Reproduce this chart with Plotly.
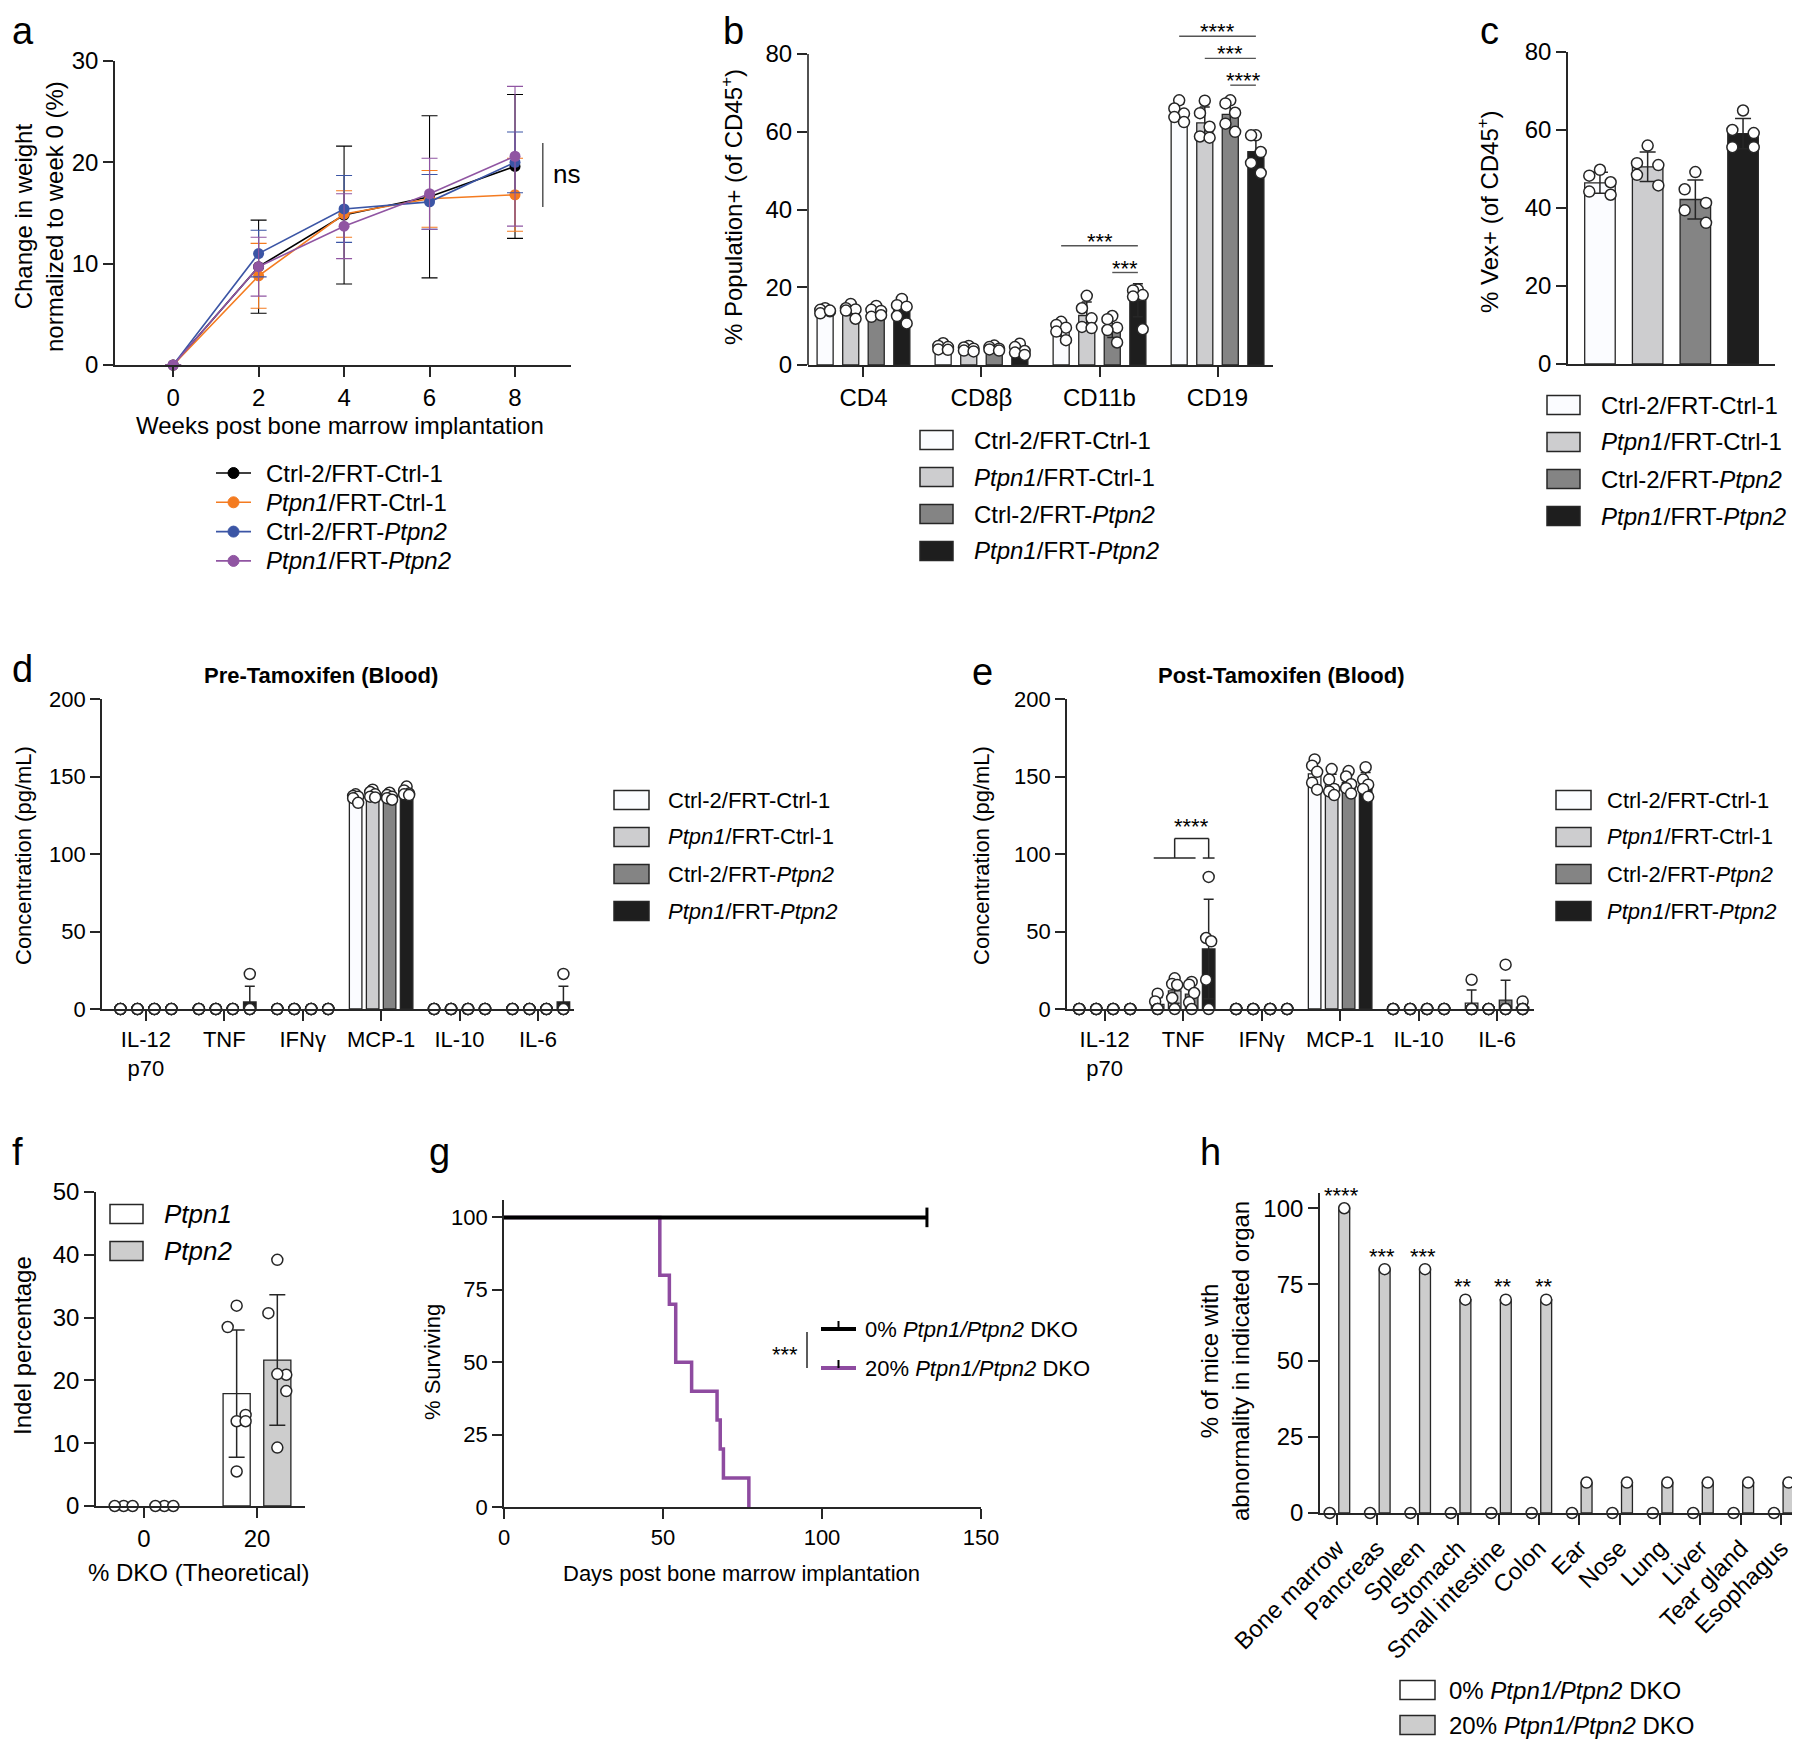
import numpy as np
import plotly.graph_objects as go

W, H = 1800, 1743
PAGE = 8  # default body margin of the html page
FW, FH = W - PAGE, H - PAGE
SANS = "Liberation Sans, Arial, Helvetica, sans-serif"
NARROW = "Liberation Sans Narrow, Arial Narrow, Liberation Sans, sans-serif"
INK = "#262626"

GROUPS = ["Ctrl-2/FRT-Ctrl-1", "<i>Ptpn1</i>/FRT-Ctrl-1",
          "Ctrl-2/FRT-<i>Ptpn2</i>", "<i>Ptpn1</i>/FRT-<i>Ptpn2</i>"]
BAR_FILLS = ["#fbfcff", "#cdcdcf", "#848484", "#1e1e1e"]
LINE_COLORS = ["#000000", "#f47b20", "#3b55a5", "#9055a2"]

# ---- a: weight change ----
weeks = [0, 2, 4, 6, 8]
a_ctrl_ctrl = [0, 9.7, 14.8, 16.6, 19.6]
a_ctrl_ctrl_sd = [0, 4.6, 6.8, 8.0, 7.1]
a_ptpn1_ctrl = [0, 8.8, 14.9, 16.4, 16.8]
a_ptpn1_ctrl_sd = [0, 3.2, 2.3, 2.8, 3.6]
a_ctrl_ptpn2 = [0, 11.0, 15.4, 16.1, 20.0]
a_ctrl_ptpn2_sd = [0, 2.3, 3.3, 2.7, 3.0]
a_ptpn1_ptpn2 = [0, 9.7, 13.7, 16.9, 20.6]
a_ptpn1_ptpn2_sd = [0, 2.9, 3.2, 3.5, 6.9]

# ---- b: populations ----
b_cells = ["CD4", "CD8β", "CD11b", "CD19"]
b_ctrl_ctrl = [[14.6, 14.2, 13.8, 13.3, 14.0], [5.6, 4.9, 4.6, 4.0, 3.9],
               [11.1, 10.3, 9.6, 8.6, 6.4], [68.1, 66.0, 64.7, 63.8, 62.5]]
b_ptpn1_ctrl = [[15.7, 14.6, 14.3, 14.0, 11.9], [4.9, 4.5, 4.2, 3.7, 3.5],
                [17.8, 14.6, 12.0, 9.8, 9.5], [68.0, 64.8, 61.3, 58.8, 58.5]]
b_ctrl_ptpn2 = [[15.2, 14.2, 13.9, 12.4, 12.8], [5.0, 4.6, 4.2, 4.0, 3.7],
                [12.6, 11.8, 9.6, 9.0, 5.8], [68.1, 67.3, 64.9, 62.1, 60.0]]
b_ptpn1_ptpn2 = [[17.0, 15.4, 15.0, 12.6, 10.7], [5.5, 4.6, 3.6, 3.2, 2.6],
                 [19.4, 19.2, 18.0, 17.6, 9.2], [59.1, 59.1, 54.8, 52.0, 49.4]]
# (category, group i, group j, stars, line height)
b_sig = [(2, 0, 3, "***", 30.7), (2, 2, 3, "***", 23.8),
         (3, 0, 3, "****", 84.6), (3, 1, 3, "***", 78.9), (3, 2, 3, "****", 72.0)]

# ---- c: Vex+ ----
c_ctrl_ctrl = [49.8, 48.3, 46.6, 44.2, 43.4]
c_ptpn1_ctrl = [56.0, 51.5, 51.0, 48.5, 45.8]
c_ctrl_ptpn2 = [49.2, 44.8, 41.3, 39.4, 36.2]
c_ptpn1_ptpn2 = [65.0, 60.0, 59.2, 55.6, 55.6]

# ---- d / e: cytokines ----
cytokines = ["IL-12<br>p70", "TNF", "IFNγ", "MCP-1", "IL-10", "IL-6"]
d_ctrl_ctrl = [[0, 0, 0, 0, 0], [0, 0, 0, 0, 0], [0, 0, 0, 0, 0],
               [138.5, 137.5, 137.0, 136.0, 133.0], [0, 0, 0, 0, 0], [0, 0, 0, 0, 0]]
d_ptpn1_ctrl = [[0, 0, 0, 0, 0], [0, 0, 0, 0, 0], [0, 0, 0, 0, 0],
                [141.5, 140.0, 138.5, 137.0, 136.5], [0, 0, 0, 0, 0], [0, 0, 0, 0, 0]]
d_ctrl_ptpn2 = [[0, 0, 0, 0, 0], [0, 0, 0, 0, 0], [0, 0, 0, 0, 0],
                [139.5, 138.0, 137.0, 136.0, 135.0], [0, 0, 0, 0, 0], [0, 0, 0, 0, 0]]
d_ptpn1_ptpn2 = [[0, 0, 0, 0, 0], [22.6, 0, 0, 0, 0], [0, 0, 0, 0, 0],
                 [143.5, 141.0, 139.0, 138.5, 138.0], [0, 0, 0, 0, 0], [22.6, 0, 0, 0, 0]]

e_ctrl_ctrl = [[0, 0, 0, 0, 0], [9.9, 4.9, 0, 0, 0], [0, 0, 0, 0, 0],
               [161.0, 157.0, 153.0, 146.0, 141.5], [0, 0, 0, 0, 0], [18.9, 0, 0, 0, 0]]
e_ptpn1_ctrl = [[0, 0, 0, 0, 0], [19.8, 16.2, 15.5, 7.1, 0], [0, 0, 0, 0, 0],
                [154.8, 148.0, 142.0, 140.4, 138.0], [0, 0, 0, 0, 0], [0, 0, 0, 0, 0]]
e_ctrl_ptpn2 = [[0, 0, 0, 0, 0], [17.5, 15.7, 10.3, 4.3, 0], [0, 0, 0, 0, 0],
                [153.5, 150.0, 145.0, 142.5, 139.0], [0, 0, 0, 0, 0], [28.6, 0, 0, 0, 0]]
e_ptpn1_ptpn2 = [[0, 0, 0, 0, 0], [85.2, 45.8, 43.7, 18.9, 0], [0, 0, 0, 0, 0],
                 [156.0, 148.0, 144.7, 142.0, 137.0], [0, 0, 0, 0, 0], [4.9, 0, 0, 0, 0]]

# ---- f: indel ----
f_doses = ["0", "20"]
f_ptpn1 = [[0, 0, 0], [31.9, 28.5, 14.5, 13.5, 13.5, 5.5]]
f_ptpn2 = [[0, 0, 0], [39.2, 30.7, 20.9, 21.0, 18.3, 9.3]]

# ---- g: survival ----
g_ctrl_days = [0, 133]
g_ctrl_surv = [100, 100]
g_dko_days = [0, 49, 52, 54, 59, 67, 68, 69, 77]
g_dko_surv = [100, 80, 70, 50, 40, 30, 20, 10, 0]

# ---- h: organs ----
h_organs = ["Bone marrow", "Pancreas", "Spleen", "Stomach", "Small intestine", "Colon",
            "Ear", "Nose", "Lung", "Liver", "Tear gland", "Esophagus"]
h_ctrl = [0, 0, 0, 0, 0, 0, 0, 0, 0, 0, 0, 0]
h_dko = [100, 80, 80, 70, 70, 70, 10, 10, 10, 10, 10, 10]
h_stars = ["****", "***", "***", "**", "**", "**", "", "", "", "", "", ""]


fig = go.Figure()
shapes, notes = [], []


def fx(p):
    return (p - PAGE) / FW


def fy(p):
    return 1 - (p - PAGE) / FH


def refs(n):
    return ("x", "y") if n == 1 else (f"x{n}", f"y{n}")


def set_axes(n, xpx, ypx, xr, yr, xt, xtt, yt, tfont, yline=True, xangle=0):
    xa, ya = refs(n)
    common = dict(showline=True, linecolor=INK, linewidth=1.6, ticks="outside", ticklen=10,
                  tickwidth=1.6, tickcolor=INK, showgrid=False, zeroline=False,
                  fixedrange=True, tickfont=tfont, tickmode="array", automargin=False)
    xk = "xaxis" if n == 1 else f"xaxis{n}"
    yk = "yaxis" if n == 1 else f"yaxis{n}"
    fig.update_layout(**{
        xk: dict(domain=[fx(xpx[0]), fx(xpx[1])], range=xr, anchor=ya,
                 tickvals=xt, ticktext=xtt, tickangle=xangle, **common),
        yk: dict(domain=[fy(ypx[1]), fy(ypx[0])], range=yr, anchor=xa,
                 tickvals=yt, ticktext=[str(v) for v in yt], **common),
    })
    if not yline:
        fig.layout[yk].showline = False


PAT = [0.0, -0.3, 0.3, -0.3, 0.3, 0.0]


def bar_panel(n, series, offsets, width, fills, cap, spread_zero=False, pat=PAT):
    xa, ya = refs(n)
    for s, vals in enumerate(series):
        xs = [c + offsets[s] for c in range(len(vals))]
        means = [float(np.mean(v)) for v in vals]
        sds = [float(np.std(v, ddof=1)) if len(v) > 1 else 0.0 for v in vals]
        fig.add_trace(go.Bar(x=xs, y=means, width=width, xaxis=xa, yaxis=ya,
                             marker=dict(color=fills[s], line=dict(color=INK, width=1.3)),
                             error_y=dict(type="data", array=sds, color=INK,
                                          thickness=1.5, width=cap),
                             showlegend=False))
    for s, vals in enumerate(series):
        dx, dy = [], []
        for c, v in enumerate(vals):
            for k, val in enumerate(v):
                j = pat[k % len(pat)] * width
                if val == 0 and not spread_zero:
                    j = 0
                dx.append(c + offsets[s] + j)
                dy.append(val)
        fig.add_trace(go.Scatter(x=dx, y=dy, mode="markers", xaxis=xa, yaxis=ya,
                                 cliponaxis=False, showlegend=False,
                                 marker=dict(size=11, color="white",
                                             line=dict(color=INK, width=1.5))))


def note(x, y, text, font, xanchor="center", yanchor="middle", angle=0):
    notes.append(dict(xref="paper", yref="paper", x=fx(x), y=fy(y), text=text,
                      showarrow=False, font=font, xanchor=xanchor, yanchor=yanchor,
                      textangle=angle))


def box_legend(labels, fills, x0, y0, dy, font, bw=33, bh=19, gap=19):
    for k, (txt, fill) in enumerate(zip(labels, fills)):
        yc = y0 + k * dy
        shapes.append(dict(type="rect", xref="paper", yref="paper",
                           x0=fx(x0), x1=fx(x0 + bw), y0=fy(yc - bh / 2), y1=fy(yc + bh / 2),
                           fillcolor=fill, line=dict(color=INK, width=1.5)))
        note(x0 + bw + gap, yc, txt, font, xanchor="left")


F24 = dict(family=SANS, size=24, color="black")
N24 = dict(family=NARROW, size=22, color="black")
STAR = dict(family=SANS, size=22, color="black")
off4 = [-0.325, -0.108, 0.108, 0.325]

# ---------------- a ----------------
set_axes(1, (115, 571), (61, 365), [-1.36, 9.31], [0, 30], weeks, [str(w) for w in weeks],
         [0, 10, 20, 30], F24)
a_series = [(a_ctrl_ctrl, a_ctrl_ctrl_sd), (a_ptpn1_ctrl, a_ptpn1_ctrl_sd),
            (a_ctrl_ptpn2, a_ctrl_ptpn2_sd), (a_ptpn1_ptpn2, a_ptpn1_ptpn2_sd)]
for k, (m, sd) in enumerate(a_series):
    fig.add_trace(go.Scatter(x=weeks, y=m, mode="lines+markers", cliponaxis=False,
                             line=dict(color=LINE_COLORS[k], width=1.6),
                             marker=dict(size=11, color=LINE_COLORS[k]),
                             error_y=dict(type="data", array=sd, color=LINE_COLORS[k],
                                          thickness=1.1, width=8),
                             showlegend=False))
shapes.append(dict(type="line", xref="x", yref="y", x0=8.65, x1=8.65, y0=15.6, y1=21.9,
                   line=dict(color="#555", width=1.5)))
notes.append(dict(xref="x", yref="y", x=8.85, y=18.8, text="ns", showarrow=False,
                  xanchor="left", font=dict(family=SANS, size=26, color="black")))
note(340, 425, "Weeks post bone marrow implantation", F24)
note(39, 217, "Change in weight<br>normalized to week 0 (%)", F24, angle=-90)
for k, g in enumerate(GROUPS):
    yc = 473 + 29.3 * k
    shapes.append(dict(type="line", xref="paper", yref="paper", x0=fx(216), x1=fx(251),
                       y0=fy(yc), y1=fy(yc), line=dict(color=LINE_COLORS[k], width=1.6)))
    shapes.append(dict(type="circle", xref="paper", yref="paper", xsizemode="pixel",
                       ysizemode="pixel", xanchor=fx(233.5), yanchor=fy(yc),
                       x0=-5.5, x1=5.5, y0=-5.5, y1=5.5, fillcolor=LINE_COLORS[k],
                       line=dict(color=LINE_COLORS[k], width=1)))
    note(264, yc, g, F24, xanchor="left")

# ---------------- b ----------------
set_axes(2, (808, 1273), (23, 365), [-0.47, 3.47], [0, 88], [0, 1, 2, 3], b_cells,
         [0, 20, 40, 60, 80], F24, yline=False)
shapes.append(dict(type="line", xref="paper", yref="y2", x0=fx(808), x1=fx(808), y0=0, y1=80,
                   line=dict(color=INK, width=1.6)))
bar_panel(2, [b_ctrl_ctrl, b_ptpn1_ctrl, b_ctrl_ptpn2, b_ptpn1_ptpn2], off4, 0.136,
          BAR_FILLS, 5)
for c, i, j, stars, yl in b_sig:
    shapes.append(dict(type="line", xref="x2", yref="y2", x0=c + off4[i], x1=c + off4[j],
                       y0=yl, y1=yl, line=dict(color="#555", width=1.4)))
    notes.append(dict(xref="x2", yref="y2", x=c + (off4[i] + off4[j]) / 2, y=yl,
                      yanchor="bottom", yshift=-10, text=stars, showarrow=False, font=STAR))
note(732, 207, "% Population+ (of CD45<sup>+</sup>)", F24, angle=-90)
box_legend(GROUPS, BAR_FILLS, 920, 440, 37, F24)

# ---------------- c ----------------
set_axes(3, (1568, 1775), (52, 364), [-0.67, 3.67], [0, 80], [], [],
         [0, 20, 40, 60, 80], F24)
fig.layout.xaxis3.ticks = ""
bar_panel(3, [[c_ctrl_ctrl], [c_ptpn1_ctrl], [c_ctrl_ptpn2], [c_ptpn1_ptpn2]],
          [0, 1, 2, 3], 0.64, BAR_FILLS, 8, pat=[0.0, -0.35, 0.35, -0.35, 0.35])
note(1488, 212, "% Vex+ (of CD45<sup>+</sup>)", F24, angle=-90)
box_legend(GROUPS, BAR_FILLS, 1547, 405, 37, F24)

# ---------------- d ----------------
set_axes(4, (102, 574), (699, 1009), [-0.56, 5.46], [0, 200], list(range(6)), cytokines,
         [0, 50, 100, 150, 200], N24)
bar_panel(4, [d_ctrl_ctrl, d_ptpn1_ctrl, d_ctrl_ptpn2, d_ptpn1_ptpn2], off4, 0.16,
          BAR_FILLS, 5, pat=[0.0, -0.2, 0.2, -0.2, 0.2])
note(321, 675, "<b>Pre-Tamoxifen (Blood)</b>", N24)
note(23, 856, "Concentration (pg/mL)", N24, angle=-90)
box_legend(GROUPS, BAR_FILLS, 614, 800, 37, N24, bw=35, gap=17)

# ---------------- e ----------------
set_axes(5, (1067, 1534), (699, 1009), [-0.48, 5.47], [0, 200], list(range(6)), cytokines,
         [0, 50, 100, 150, 200], N24)
bar_panel(5, [e_ctrl_ctrl, e_ptpn1_ctrl, e_ctrl_ptpn2, e_ptpn1_ptpn2], off4, 0.16,
          BAR_FILLS, 5, pat=[0.0, -0.2, 0.2, -0.2, 0.2])
y_lo, y_hi = 97.4, 110
mid = 1 + (off4[0] + off4[1] + off4[2]) / 3
for x0, x1, y0, y1 in [(1 + off4[0] - 0.05, 1 + off4[2] + 0.05, y_lo, y_lo),
                       (mid, mid, y_lo, y_hi), (mid, 1 + off4[3], y_hi, y_hi),
                       (1 + off4[3], 1 + off4[3], y_hi, y_lo),
                       (1 + off4[3] - 0.075, 1 + off4[3] + 0.075, y_lo, y_lo)]:
    shapes.append(dict(type="line", xref="x5", yref="y5", x0=x0, x1=x1, y0=y0, y1=y1,
                       line=dict(color=INK, width=1.5)))
notes.append(dict(xref="x5", yref="y5", x=(mid + 1 + off4[3]) / 2, y=y_hi + 2,
                  yanchor="bottom", yshift=-6, text="****", showarrow=False, font=STAR))
note(1281, 675, "<b>Post-Tamoxifen (Blood)</b>", N24)
note(981, 856, "Concentration (pg/mL)", N24, angle=-90)
box_legend(GROUPS, BAR_FILLS, 1556, 800, 37, N24, bw=35, gap=14)

# ---------------- f ----------------
set_axes(6, (96, 305), (1192, 1506), [-0.425, 1.425], [0, 50], [0, 1], f_doses,
         [0, 10, 20, 30, 40, 50], F24)
bar_panel(6, [f_ptpn1, f_ptpn2], [-0.18, 0.18], 0.24, ["#ffffff", "#cdcdcd"], 8,
          spread_zero=True, pat=[0.0, -0.33, 0.33, 0.0, 0.33, 0.0])
note(22, 1346, "Indel percentage", F24, angle=-90)
note(198, 1572, "% DKO (Theoretical)", F24)
box_legend(["<i>Ptpn1</i>", "<i>Ptpn2</i>"], ["#ffffff", "#cdcdcd"], 110, 1214, 37,
           dict(family=SANS, size=26, color="black"))

# ---------------- g ----------------
set_axes(7, (504, 981), (1200, 1507), [0, 150], [0, 106], [0, 50, 100, 150],
         ["0", "50", "100", "150"], [0, 25, 50, 75, 100], N24)
fig.add_trace(go.Scatter(x=g_dko_days, y=g_dko_surv, mode="lines", xaxis="x7", yaxis="y7",
                         line=dict(shape="hv", color="#8e4ba0", width=3.5), showlegend=False))
fig.add_trace(go.Scatter(x=g_ctrl_days, y=g_ctrl_surv, mode="lines", xaxis="x7", yaxis="y7",
                         line=dict(shape="hv", color="black", width=4), showlegend=False))
fig.add_trace(go.Scatter(x=g_ctrl_days[-1:], y=g_ctrl_surv[-1:], mode="markers",
                         xaxis="x7", yaxis="y7", cliponaxis=False, showlegend=False,
                         marker=dict(symbol="line-ns", size=14,
                                     line=dict(color="black", width=3))))
note(432, 1362, "% Surviving", N24, angle=-90)
note(741, 1573, "Days post bone marrow implantation", N24)
for k, (lab, col) in enumerate([("0% <i>Ptpn1/Ptpn2</i> DKO", "black"),
                                ("20% <i>Ptpn1/Ptpn2</i> DKO", "#8e4ba0")]):
    yc = 1329 + 39 * k
    shapes.append(dict(type="line", xref="paper", yref="paper", x0=fx(821), x1=fx(856),
                       y0=fy(yc), y1=fy(yc), line=dict(color=col, width=4)))
    shapes.append(dict(type="line", xref="paper", yref="paper", x0=fx(838.5), x1=fx(838.5),
                       y0=fy(yc), y1=fy(yc - 8), line=dict(color="black", width=2)))
    note(863, yc, lab, N24, xanchor="left")
shapes.append(dict(type="line", xref="paper", yref="paper", x0=fx(807), x1=fx(807),
                   y0=fy(1332), y1=fy(1368), line=dict(color=INK, width=1.5)))
note(785, 1354, "***", STAR)

# ---------------- h ----------------
set_axes(8, (1320, 1795), (1193, 1513), [-0.42, 11.34], [0, 105], list(range(12)), h_organs,
         [0, 25, 50, 75, 100], F24, xangle=-45)
bar_panel(8, [[[v] for v in h_ctrl], [[v] for v in h_dko]], [-0.18, 0.18], 0.27,
          ["#ffffff", "#cdcdcd"], 0)
for c, (v, s) in enumerate(zip(h_dko, h_stars)):
    if s:
        notes.append(dict(xref="x8", yref="y8", x=c + 0.12, y=v + 1.5, yanchor="bottom",
                          yshift=-6, text=s, showarrow=False, font=STAR))
note(1225, 1361, "% of mice with<br>abnormality in indicated organ", F24, angle=-90)
box_legend(["0% <i>Ptpn1/Ptpn2</i> DKO", "20% <i>Ptpn1/Ptpn2</i> DKO"],
           ["#ffffff", "#cdcdcd"], 1400, 1690, 35, F24, bw=35, gap=12)

# ---------------- panel letters ----------------
LETTER = dict(family=SANS, size=38, color="black")
for lab, x in [("a", 10), ("b", 721), ("c", 1478)]:
    note(x, PAGE, lab, LETTER, xanchor="left", yanchor="top")
for lab, x, y in [("d", 10, 669), ("e", 970, 672), ("f", 10, 1152), ("g", 427, 1152),
                  ("h", 1198, 1152)]:
    note(x, y, lab, LETTER, xanchor="left")

fig.update_layout(width=FW, height=FH, autosize=False, margin=dict(l=0, r=0, t=0, b=0),
                  paper_bgcolor="white", plot_bgcolor="white", barmode="overlay",
                  showlegend=False, shapes=shapes, annotations=notes,
                  font=dict(family=SANS, color="black"))
fig.write_html("out.html")
